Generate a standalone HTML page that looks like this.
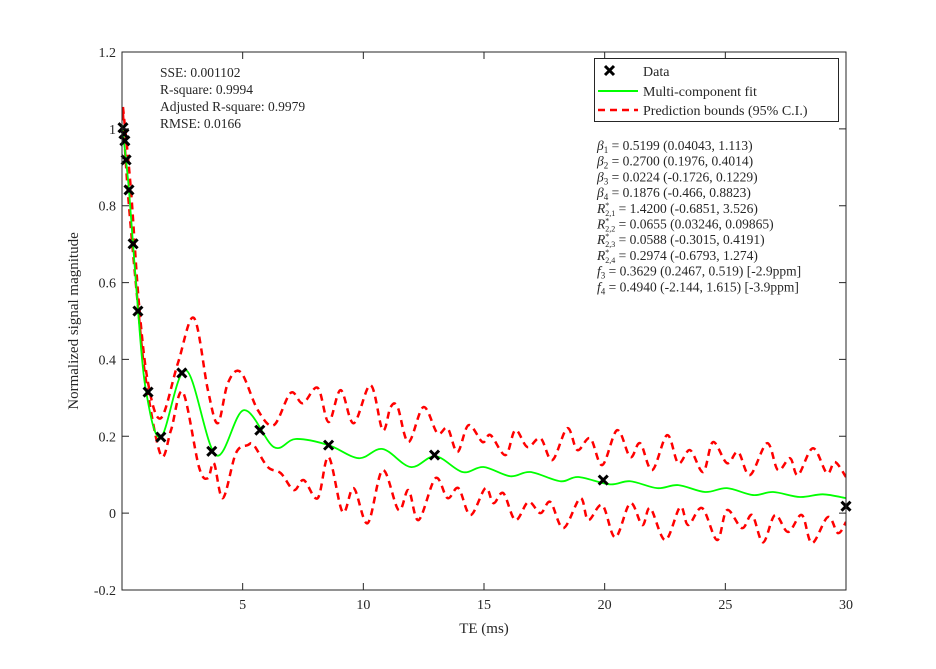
<!DOCTYPE html>
<html><head><meta charset="utf-8"><style>
body{margin:0;background:#fff}
svg text{font-family:"Liberation Serif",serif;fill:#262626}
</style></head><body>
<svg id="c" width="936" height="664" viewBox="0 0 936 664"></svg>
<script>
const dataT=[0.04,0.08,0.12,0.17,0.29,0.46,0.66,1.08,1.61,2.48,3.72,5.71,8.56,12.95,19.94,30.0];
const dataV=[1.003,0.987,0.969,0.919,0.841,0.701,0.526,0.315,0.198,0.365,0.161,0.216,0.177,0.151,0.086,0.018];
const fitT=[0.0,0.29,0.66,0.99,1.61,2.65,3.89,5.05,6.29,7.2,8.56,9.81,10.8,11.96,12.99,14.11,14.98,16.09,16.92,18.16,18.91,20.2,21.06,22.18,23.05,24.16,25.07,26.15,26.98,28.09,29.04,30.0];
const fitV=[1.01,0.84,0.53,0.32,0.198,0.372,0.151,0.268,0.172,0.193,0.177,0.143,0.167,0.12,0.148,0.107,0.12,0.096,0.107,0.083,0.094,0.075,0.083,0.065,0.073,0.055,0.065,0.047,0.055,0.042,0.049,0.039];
const upT=[0.04,0.37,0.70,1.08,1.61,2.32,2.98,3.56,3.97,4.39,4.92,5.63,6.29,6.99,7.49,8.11,8.56,9.06,9.60,10.30,10.80,11.13,11.42,11.87,12.49,13.07,13.49,13.90,14.36,14.94,15.27,15.89,16.30,16.80,17.34,17.83,18.45,18.87,19.40,19.90,20.52,21.06,21.47,21.97,22.59,23.05,23.54,24.08,24.49,25.07,25.53,26.02,26.73,27.18,27.68,28.01,28.63,29.21,29.54,30.0];
const upV=[1.057,0.841,0.547,0.339,0.247,0.391,0.508,0.320,0.234,0.339,0.367,0.268,0.229,0.313,0.286,0.326,0.237,0.320,0.234,0.333,0.216,0.276,0.276,0.185,0.276,0.208,0.221,0.159,0.229,0.185,0.203,0.151,0.216,0.172,0.195,0.138,0.221,0.164,0.195,0.125,0.216,0.146,0.182,0.112,0.203,0.130,0.164,0.107,0.185,0.130,0.159,0.099,0.182,0.112,0.143,0.099,0.169,0.104,0.133,0.094];
const loT=[0.04,0.25,0.66,0.99,1.61,2.03,2.52,3.19,3.56,3.81,4.18,4.72,5.21,5.46,6.04,6.58,7.12,7.53,8.11,8.56,9.14,9.60,10.18,10.80,11.46,11.87,12.29,12.99,13.49,13.94,14.44,15.06,15.39,15.80,16.30,16.84,17.34,17.75,18.29,18.99,19.32,19.90,20.44,21.06,21.56,21.89,22.51,23.13,23.46,24.04,24.66,25.07,25.69,26.11,26.56,27.06,27.60,28.17,28.59,29.25,29.67,30.0];
const loV=[1.04,0.83,0.54,0.346,0.151,0.216,0.315,0.120,0.091,0.130,0.039,0.156,0.177,0.177,0.120,0.104,0.060,0.086,0.039,0.146,0.003,0.065,-0.026,0.112,0.008,0.060,-0.018,0.091,0.039,0.065,-0.005,0.065,0.026,0.052,-0.018,0.029,0.000,0.029,-0.039,0.039,-0.018,0.021,-0.063,0.026,-0.031,0.013,-0.070,0.016,-0.031,0.013,-0.070,0.008,-0.039,-0.005,-0.076,-0.005,-0.049,-0.005,-0.078,-0.010,-0.052,-0.023];
const xTicks=[5,10,15,20,25,30];
const yTicks=[-0.2,0,0.2,0.4,0.6,0.8,1,1.2];
const yTickLabels=["-0.2","0","0.2","0.4","0.6","0.8","1","1.2"];

const svg=document.getElementById('c');
const NS='http://www.w3.org/2000/svg';
const L=122,R=846,T=52,B=590;
const sx=t=>L+(t/30)*(R-L);
const sy=v=>B-(v+0.2)/1.4*(B-T);
function mk(tag,a,parent){const e=document.createElementNS(NS,tag);for(const k in a)e.setAttribute(k,a[k]);(parent||svg).appendChild(e);return e;}
function smooth(xs,ys){let p=xs.map((x,i)=>[sx(x),sy(ys[i])]);let d='M'+p[0][0]+','+p[0][1];for(let i=0;i<p.length-1;i++){const p0=p[Math.max(0,i-1)],p1=p[i],p2=p[i+1],p3=p[Math.min(p.length-1,i+2)];d+=' C'+(p1[0]+(p2[0]-p0[0])/6)+','+(p1[1]+(p2[1]-p0[1])/6)+' '+(p2[0]-(p3[0]-p1[0])/6)+','+(p2[1]-(p3[1]-p1[1])/6)+' '+p2[0]+','+p2[1];}return d;}

const clip=mk('clipPath',{id:'cp'});mk('rect',{x:L,y:T,width:R-L,height:B-T},clip);
const gPlot=mk('g',{'clip-path':'url(#cp)'});


let e;
e=mk('path',{d:smooth(upT,upV),fill:'none',stroke:'#ff0000','stroke-width':2.5,'stroke-dasharray':'7,5'},gPlot);


e=mk('path',{d:smooth(loT,loV),fill:'none',stroke:'#ff0000','stroke-width':2.5,'stroke-dasharray':'7,5'},gPlot);


e=mk('path',{d:smooth(fitT,fitV),fill:'none',stroke:'#00ff00','stroke-width':1.8},gPlot);



dataT.forEach((t,i)=>{const x=sx(t),y=sy(dataV[i]);
 const m=mk('path',{d:`M${x-4.5},${y-4.5}L${x+4.5},${y+4.5}M${x-4.5},${y+4.5}L${x+4.5},${y-4.5}`,stroke:'#000','stroke-width':3});
 
 });

e=mk('rect',{x:L,y:T,width:R-L,height:B-T,fill:'none',stroke:'#262626','stroke-width':1});


xTicks.forEach(t=>{const x=sx(t);mk('path',{d:`M${x},${B}V${B-7}M${x},${T}V${T+7}`,stroke:'#262626'});
 const tx=mk('text',{x:x,y:B+19,'text-anchor':'middle','font-size':14});tx.textContent=t;
 
 });
yTicks.forEach((v,i)=>{const y=sy(v);mk('path',{d:`M${L},${y}H${L+7}M${R},${y}H${R-7}`,stroke:'#262626'});
 const tx=mk('text',{x:L-6,y:y+5,'text-anchor':'end','font-size':14});tx.textContent=yTickLabels[i];
 
 });
</script>
<svg width="936" height="664" style="position:absolute;left:0;top:0">
<text x="484" y="633" text-anchor="middle" font-size="15">TE (ms)</text>
<text transform="translate(78,321) rotate(-90)" text-anchor="middle" font-size="15">Normalized signal magnitude</text>
<g font-size="13.5">
<text x="160" y="77">SSE: 0.001102</text>
<text x="160" y="94">R-square: 0.9994</text>
<text x="160" y="111">Adjusted R-square: 0.9979</text>
<text x="160" y="128">RMSE: 0.0166</text>
</g>
<g>
<rect x="594.5" y="58.5" width="244" height="63" fill="#fff" stroke="#262626"/>
<path d="M605,66l9,9M605,75l9,-9" stroke="#000" stroke-width="3"/>
<text x="643" y="76" font-size="14">Data</text>
<path d="M598,91H638" stroke="#00ff00" stroke-width="2"/>
<text x="643" y="96" font-size="14">Multi-component fit</text>
<path d="M598,110H638" stroke="#ff0000" stroke-width="2.5" stroke-dasharray="7,5"/>
<text x="643" y="115" font-size="14">Prediction bounds (95% C.I.)</text>
</g>
<g font-size="13.5">
<text x="597" y="150"><tspan font-style="italic">β</tspan><tspan font-size="9" dy="3">1</tspan><tspan dy="-3"> = 0.5199 (0.04043, 1.113)</tspan></text>
<text x="597" y="165.7"><tspan font-style="italic">β</tspan><tspan font-size="9" dy="3">2</tspan><tspan dy="-3"> = 0.2700 (0.1976, 0.4014)</tspan></text>
<text x="597" y="181.4"><tspan font-style="italic">β</tspan><tspan font-size="9" dy="3">3</tspan><tspan dy="-3"> = 0.0224 (-0.1726, 0.1229)</tspan></text>
<text x="597" y="197.1"><tspan font-style="italic">β</tspan><tspan font-size="9" dy="3">4</tspan><tspan dy="-3"> = 0.1876 (-0.466, 0.8823)</tspan></text>
<text x="597" y="212.8"><tspan font-style="italic">R</tspan><tspan font-size="8" dy="-5">*</tspan><tspan font-size="8" dy="8" dx="-4">2,1</tspan><tspan dy="-3"> = 1.4200 (-0.6851, 3.526)</tspan></text>
<text x="597" y="228.5"><tspan font-style="italic">R</tspan><tspan font-size="8" dy="-5">*</tspan><tspan font-size="8" dy="8" dx="-4">2,2</tspan><tspan dy="-3"> = 0.0655 (0.03246, 0.09865)</tspan></text>
<text x="597" y="244.2"><tspan font-style="italic">R</tspan><tspan font-size="8" dy="-5">*</tspan><tspan font-size="8" dy="8" dx="-4">2,3</tspan><tspan dy="-3"> = 0.0588 (-0.3015, 0.4191)</tspan></text>
<text x="597" y="259.9"><tspan font-style="italic">R</tspan><tspan font-size="8" dy="-5">*</tspan><tspan font-size="8" dy="8" dx="-4">2,4</tspan><tspan dy="-3"> = 0.2974 (-0.6793, 1.274)</tspan></text>
<text x="597" y="275.6"><tspan font-style="italic">f</tspan><tspan font-size="9" dy="3">3</tspan><tspan dy="-3"> = 0.3629 (0.2467, 0.519) [-2.9ppm]</tspan></text>
<text x="597" y="291.3"><tspan font-style="italic">f</tspan><tspan font-size="9" dy="3">4</tspan><tspan dy="-3"> = 0.4940 (-2.144, 1.615) [-3.9ppm]</tspan></text>
</g>
</svg>
</body></html>
